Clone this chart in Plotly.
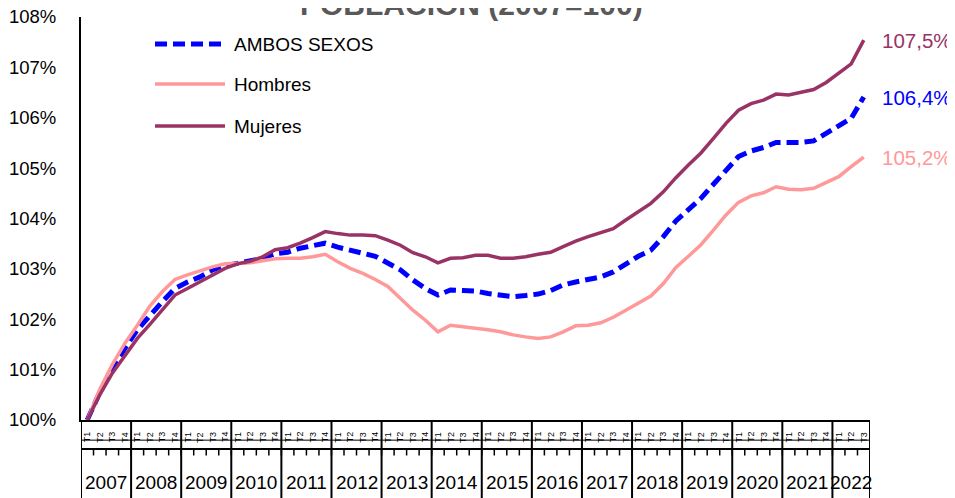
import plotly.graph_objects as go

# ---------------- data ----------------
years = [str(y) for y in range(2007, 2023)]
quarters = ["T1", "T2", "T3", "T4"]

ambos = [100.00, 100.55, 101.00, 101.42, 101.79, 102.08, 102.35, 102.61,
         102.74, 102.84, 102.98, 103.06, 103.11, 103.14, 103.21, 103.30,
         103.33, 103.41, 103.47, 103.51, 103.43, 103.36, 103.31, 103.25,
         103.11, 102.98, 102.78, 102.61, 102.48, 102.58, 102.57, 102.56,
         102.51, 102.47, 102.45, 102.47, 102.50, 102.57, 102.68, 102.74,
         102.79, 102.84, 102.94, 103.11, 103.25, 103.37, 103.64, 103.95,
         104.17, 104.40, 104.68, 104.96, 105.23, 105.34, 105.41, 105.51,
         105.50, 105.51, 105.54, 105.69, 105.83, 105.99, 106.41]

hombres = [100.00, 100.61, 101.10, 101.52, 101.88, 102.26, 102.55, 102.79,
           102.88, 102.96, 103.04, 103.10, 103.11, 103.12, 103.16, 103.20,
           103.21, 103.21, 103.24, 103.29, 103.14, 103.01, 102.91, 102.79,
           102.65, 102.41, 102.18, 101.98, 101.75, 101.88, 101.85, 101.83,
           101.79, 101.75, 101.69, 101.65, 101.62, 101.65, 101.75, 101.87,
           101.88, 101.93, 102.04, 102.18, 102.33, 102.46, 102.71, 103.03,
           103.25, 103.48, 103.77, 104.07, 104.32, 104.45, 104.51, 104.63,
           104.58, 104.57, 104.60, 104.71, 104.83, 105.03, 105.22]

mujeres = [100.00, 100.50, 100.93, 101.29, 101.62, 101.90, 102.20, 102.48,
           102.61, 102.74, 102.88, 103.01, 103.10, 103.15, 103.24, 103.38,
           103.42, 103.51, 103.62, 103.74, 103.70, 103.67, 103.67, 103.66,
           103.57, 103.47, 103.32, 103.24, 103.12, 103.21, 103.22, 103.27,
           103.27, 103.21, 103.21, 103.24, 103.29, 103.33, 103.44, 103.55,
           103.64, 103.72, 103.80, 103.97, 104.13, 104.30, 104.53, 104.81,
           105.06, 105.30, 105.59, 105.89, 106.15, 106.28, 106.35, 106.47,
           106.45, 106.50, 106.56, 106.70, 106.88, 107.07, 107.54]

y_ticks = [100, 101, 102, 103, 104, 105, 106, 107, 108]
y_tick_text = [f"{v}%" for v in y_ticks]

names = ["AMBOS SEXOS", "Hombres", "Mujeres"]
colors = {"AMBOS SEXOS": "#0000FF", "Hombres": "#FF9999", "Mujeres": "#993366"}

# ---------------- figure ----------------
n = len(ambos)
x = list(range(n))
period_year = [years[i // 4] for i in range(n)]
period_q = [quarters[i % 4] for i in range(n)]

FONT = "Liberation Sans, Arial, sans-serif"

fig = go.Figure()
series = {"AMBOS SEXOS": ambos, "Hombres": hombres, "Mujeres": mujeres}
for name in names:
    vals = series[name]
    if name == "AMBOS SEXOS":
        line = dict(color=colors[name], width=5, dash="12px,6px")
    else:
        line = dict(color=colors[name], width=3.5)
    fig.add_trace(go.Scatter(x=x, y=vals, mode="lines", name=name, line=line,
                             cliponaxis=False, showlegend=False))

shapes = []
annotations = []

# year separators and labels
for yr in years:
    idx = [i for i in range(n) if period_year[i] == yr]
    shapes.append(dict(type="line", xref="x", yref="paper", x0=idx[0] - 0.5, x1=idx[0] - 0.5,
                       y0=0, y1=-0.22, line=dict(color="black", width=2)))
    annotations.append(dict(x=sum(idx) / len(idx), y=-0.156, xref="x", yref="paper",
                            text=yr, showarrow=False, font=dict(family=FONT, size=19, color="black"),
                            xanchor="center", yanchor="middle"))
shapes.append(dict(type="line", xref="x", yref="paper", x0=n - 0.5, x1=n - 0.5,
                   y0=0, y1=-0.22, line=dict(color="black", width=2)))

# quarter ticks and labels
for i in range(n):
    shapes.append(dict(type="line", xref="x", yref="paper", x0=i - 0.5, x1=i - 0.5,
                       y0=-0.072, y1=-0.088, line=dict(color="black", width=1.5)))
    annotations.append(dict(x=i, y=-0.042, xref="x", yref="paper", text=period_q[i],
                            textangle=-90, showarrow=False,
                            font=dict(family=FONT, size=9, color="black"),
                            xanchor="center", yanchor="middle"))
shapes.append(dict(type="line", xref="x", yref="paper", x0=-0.5, x1=n - 0.5,
                   y0=-0.072, y1=-0.072, line=dict(color="black", width=2)))
shapes.append(dict(type="line", xref="x", yref="paper", x0=-0.5, x1=n - 0.5,
                   y0=-0.05, y1=-0.05, line=dict(color="black", width=1)))

# end labels
for name in names:
    v = series[name][-1]
    annotations.append(dict(x=n - 1, y=v, xref="x", yref="y",
                            text=f"{v:.1f}%".replace(".", ","), showarrow=False,
                            xanchor="left", yanchor="middle", xshift=16,
                            font=dict(family=FONT, size=20.5, color=colors[name])))

# manual legend
leg_y = [0.933, 0.8337, 0.7295]
for name, ly in zip(names, leg_y):
    if name == "AMBOS SEXOS":
        ln = dict(color=colors[name], width=5, dash="12px,6px")
    else:
        ln = dict(color=colors[name], width=3.5)
    shapes.append(dict(type="line", xref="paper", yref="paper", x0=0.0938, x1=0.1825,
                       y0=ly, y1=ly, line=ln))
    annotations.append(dict(x=0.1914, y=ly, xref="paper", yref="paper", text=name,
                            showarrow=False, xanchor="left", yanchor="middle",
                            font=dict(family=FONT, size=19, color="black")))

# title (partly cut at top)
annotations.append(dict(x=0.495, y=1.030, xref="paper", yref="paper",
                        text="<b>POBLACIÓN (2007=100)</b>", showarrow=False,
                        xanchor="center", yanchor="middle",
                        font=dict(family=FONT, size=30, color="#595959")))

# the page body adds an 8px offset; margins compensate so the plot area
# lands at the same screen position as the reference
fig.update_layout(
    width=955, height=498,
    margin=dict(l=73, r=93, t=9, b=86, autoexpand=False),
    paper_bgcolor="white", plot_bgcolor="white",
    shapes=shapes, annotations=annotations,
    showlegend=False,
    xaxis=dict(range=[-0.5, n - 0.5], showgrid=False, zeroline=False,
               showticklabels=False, ticks="", showline=True, automargin=False,
               linecolor="black", linewidth=2),
    yaxis=dict(range=[100, 108], tickvals=y_ticks, ticktext=y_tick_text,
               showgrid=False, zeroline=False, ticks="", showline=True, automargin=False,
               linecolor="black", linewidth=2, ticklabelstandoff=19,
               ticklabeloverflow="allow",
               tickfont=dict(family=FONT, size=18.5, color="black")),
)

fig.write_html("out.html")
